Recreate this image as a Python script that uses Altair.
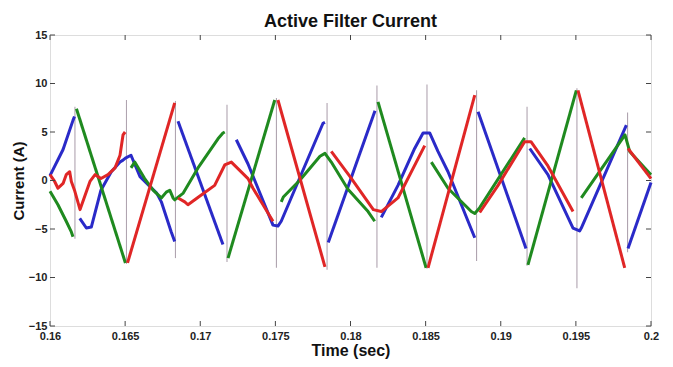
import altair as alt
import pandas as pd

# ---- data (None = break in the trace at a fast jump) ----
blue_t = [0.16, 0.16087, 0.16153, 0.16163, None,
          0.16198, 0.16242, 0.16275, 0.16339, 0.16408, 0.16466, 0.16486, 0.16502, 0.16539,
          0.16599, 0.16710, 0.16741, 0.16807, 0.16830, None,
          0.16852, 0.17151, None,
          0.17240, 0.17318, 0.17484, 0.17517, 0.17539, 0.17817, 0.17830, None,
          0.17852, 0.18163, None,
          0.18205, 0.18316, 0.18427, 0.18483, 0.18527, 0.18582, 0.18649, 0.18827, None,
          0.18849, 0.19168, None,
          0.19193, 0.19314, 0.19481, 0.19525, 0.19536, 0.19836, None,
          0.19847, 0.2]
blue_v = [0.5, 3.2, 6.2, 6.6, None,
          -3.9, -4.9, -4.8, -1.0, 0.9, 1.9, 2.1, 2.3, 2.6,
          0.4, -1.3, -2.2, -5.3, -6.3, None,
          6.1, -6.6, None,
          4.2, 1.7, -4.6, -4.7, -4.2, 5.9, 6.0, None,
          -6.4, 7.2, None,
          -3.8, -0.5, 3.3, 4.9, 4.9, 3.0, 0.9, -5.9, None,
          7.1, -7.0, None,
          3.3, 0.6, -4.9, -5.2, -4.9, 5.7, None,
          -7.0, -0.2]

red_t = [0.16, 0.16031, 0.16053, 0.16087, 0.16108, 0.16131, 0.16142, 0.16163, 0.16200,
         0.16266, 0.16300, 0.16339, 0.16386, 0.16433, 0.16466, 0.16486, 0.16500, None,
         0.16516, 0.16830, None,
         0.16852, 0.16897, 0.16918, 0.17007, 0.17096, 0.17163, 0.17207, 0.17318, 0.17351, 0.17484, None,
         0.17517, 0.17830, None,
         0.17872, 0.17930, 0.17997, 0.18152, 0.18205, 0.18316, 0.18494, None,
         0.18516, 0.18827, None,
         0.18860, 0.18982, 0.19159, 0.19201, 0.19314, 0.19481, None,
         0.19514, 0.19825, None,
         0.19847, 0.2]
red_v = [0.6, -0.1, -0.8, -0.3, 0.6, 0.9, -0.1, -1.0, -3.0,
         -0.1, 0.6, 0.2, 0.6, 1.3, 2.6, 4.7, 5.0, None,
         -8.5, 8.0, None,
         -1.8, -2.2, -2.5, -1.5, -0.5, 1.6, 1.9, 0.2, -0.8, -4.2, None,
         8.3, -8.9, None,
         3.0, 1.8, 0.4, -3.0, -3.2, -1.8, 3.6, None,
         -9.0, 8.8, None,
         -3.3, -0.5, 4.0, 4.0, 1.5, -3.2, None,
         9.3, -9.0, None,
         3.3, 0.2]

green_t = [0.16, 0.16053, 0.16108, 0.16142, 0.16153, None,
           0.16176, 0.16502, None,
           0.16539, 0.16564, 0.16630, 0.16686, 0.16741, 0.16774, 0.16797, 0.16819, 0.16830,
           0.16887, 0.16985, 0.17118, 0.17151, 0.17163, None,
           0.17185, 0.17496, None,
           0.17539, 0.17553, 0.17664, 0.17797, 0.17830, 0.17872, 0.17983, 0.18117, 0.18161, None,
           0.18183, 0.18503, None,
           0.18538, 0.18649, 0.18804, 0.18827, 0.18860, 0.19159, None,
           0.19181, 0.19503, None,
           0.19536, 0.19827, 0.19858, 0.2]
green_v = [-1.1, -2.5, -4.2, -5.3, -5.8, None,
           7.4, -8.5, None,
           1.3, 1.9, 0.2, -1.0, -1.8, -1.2, -1.0, -1.8, -2.0,
           -1.3, 1.3, 4.3, 4.9, 5.0, None,
           -8.0, 8.3, None,
           -2.2, -1.7, 0.05, 2.5, 2.8, 1.9, -0.9, -3.2, -4.2, None,
           8.1, -9.0, None,
           1.9, -0.8, -3.2, -3.4, -2.8, 4.4, None,
           -8.7, 9.3, None,
           -1.8, 4.7, 3.0, 0.6]

# commutation spikes: time, top, bottom
spike_t = [0.16166, 0.16509, 0.16835, 0.17178, 0.17507, 0.17844,
           0.18176, 0.18509, 0.18839, 0.19175, 0.19507, 0.19844]
spike_top = [7.6, 8.3, 8.2, 7.8, 8.5, 8.0, 9.8, 9.9, 9.3, 7.6, 9.5, 7.0]
spike_bot = [-6.0, -8.6, -8.0, -8.4, -9.0, -9.2, -9.0, -9.1, -8.3, -8.8, -11.1, -7.4]

x_ticks = [0.16, 0.165, 0.17, 0.175, 0.18, 0.185, 0.19, 0.195, 0.2]
y_ticks = [-15, -10, -5, 0, 5, 10, 15]


def build(ts, vs):
    rows, seg = [], 0
    for t, v in zip(ts, vs):
        if t is None:
            seg += 1
            continue
        rows.append({"t": t, "v": v, "seg": seg})
    return pd.DataFrame(rows)


W, H = 601, 291
FONT = "Liberation Sans"

xs = alt.Scale(domain=[0.16, 0.2], nice=False, zero=False)
ys = alt.Scale(domain=[-15, 15], nice=False, zero=False)

xaxis = alt.Axis(values=x_ticks, format="~g", ticks=False, domain=False, grid=False,
                 labelFont=FONT, labelFontSize=11, labelFontWeight="bold", labelColor="#222",
                 labelPadding=4, labelFlush=False, title="Time (sec)", titleFont=FONT,
                 titleFontSize=16, titleFontWeight="bold", titleColor="#111", titlePadding=1)
yaxis = alt.Axis(values=y_ticks, ticks=False, domain=False, grid=False,
                 labelFont=FONT, labelFontSize=11, labelFontWeight="bold", labelColor="#222",
                 labelPadding=3, labelFlush=False, title="Current (A)", titleFont=FONT,
                 titleFontSize=15, titleFontWeight="bold", titleColor="#111", titlePadding=2)

X = alt.X("t:Q", scale=xs, axis=xaxis)
Y = alt.Y("v:Q", scale=ys, axis=yaxis)

spikes = pd.DataFrame({"t": spike_t, "v": spike_top, "v2": spike_bot})
spike_layer = alt.Chart(spikes).mark_rule(color="#b0a4b0", strokeWidth=1.1).encode(
    x=X, y=Y, y2="v2:Q")


def line(df, color):
    return alt.Chart(df).mark_line(color=color, strokeWidth=3, strokeJoin="round").encode(
        x=X, y=Y, detail="seg:N", order="t:Q")


blue = line(build(blue_t, blue_v), "#2a2ac8")
green = line(build(green_t, green_v), "#1f8a1f")
red = line(build(red_t, red_v), "#e02626")

xt = pd.DataFrame({"t": x_ticks})
yt = pd.DataFrame({"v": y_ticks})
tick_color = "#444"
xb = alt.Chart(xt).mark_rule(color=tick_color, strokeWidth=1).encode(x=X, y=alt.value(H), y2=alt.value(H - 5))
xtop = alt.Chart(xt).mark_rule(color=tick_color, strokeWidth=1).encode(x=X, y=alt.value(0), y2=alt.value(5))
yl = alt.Chart(yt).mark_rule(color=tick_color, strokeWidth=1).encode(y=Y, x=alt.value(0), x2=alt.value(5))
yr = alt.Chart(yt).mark_rule(color=tick_color, strokeWidth=1).encode(y=Y, x=alt.value(W), x2=alt.value(W - 5))

chart = alt.layer(spike_layer, blue, green, red, xb, xtop, yl, yr).properties(
    width=W, height=H,
    title=alt.TitleParams("Active Filter Current", font=FONT, fontSize=18, fontWeight="bold",
                          color="#111", offset=-2, frame="group"),
    padding={"left": 42, "top": 27, "right": 10, "bottom": 33},
    autosize=alt.AutoSizeParams(type="none"),
).configure_view(stroke="#444", strokeWidth=1.6).configure(background="white")

chart.save("out.html", embed_options={"renderer": "svg", "actions": False})
